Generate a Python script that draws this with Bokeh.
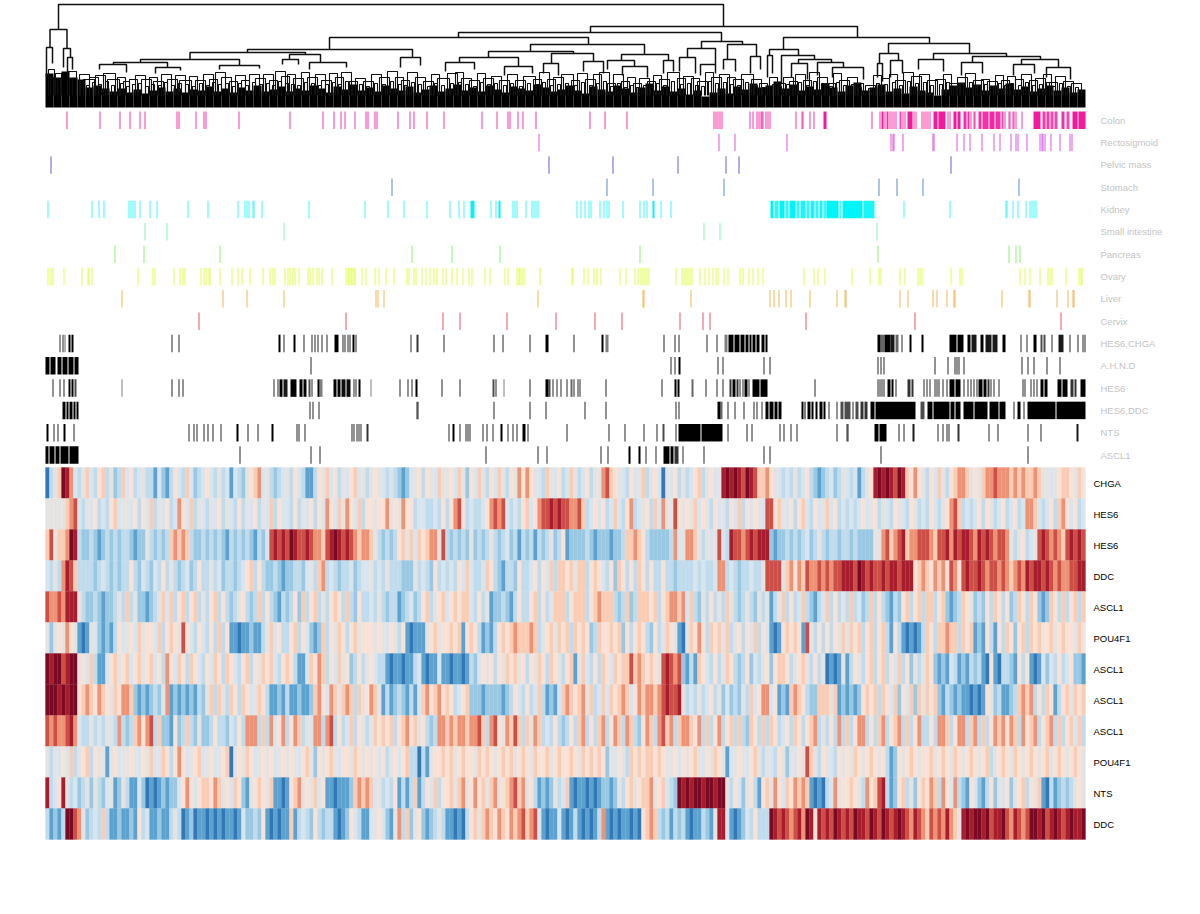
from bokeh.plotting import figure
from bokeh.models import Range1d, ColumnDataSource
from bokeh.core.properties import value
from bokeh.embed import file_html
from bokeh.resources import INLINE

# ---------- tracks: sample, or (first sample, count), or (first sample, count, coverage)
COLON = [21,54,74,84,94,99,131,133,150,158,160,193,244,277,288,295,299,309,320,322,329,331,352,364,368,381,398,436,451,462,464,472,477,490,544,559,581,
 668,670,672,674,676,704,707,711,713,715,716,717,720,722,724,750,756,757,764,768,(778,3,1),826,834,(836,2,1),839,(841,2,.9),844,846,848,850,(854,2,.8),857,859,(862,5,1),868,870,
 876,878,880,882,884,(888,4,1),(893,7,1),902,904,(908,3,1),(912,3,1),(918,3,.9),(922,2,.9),925,(928,2,.8),(933,3,.9),(937,6,.9),(944,5,.95),(950,5,.9),(956,2,.8),959,963,964,967,968,970,976,(988,7,1),(997,3,.85),(1001,3,.85),(1005,3,.8),(1009,3,.8),(1016,3,.9),(1021,3,.8),(1027,5,1),(1033,7,1)]
RECTOSIGMOID = [493,673,689,741,845,847,848,857,887,888,911,918,924,936,948,954,965,970,972,981,994,996,997,999,1005,1014,1024,1026]
PELVIC_MASS = [5,503,567,632,680,693,905]
STOMACH = [346,561,607,678,833,851,877,973]
KIDNEY = [2,46,53,58,83,85,87,89,94,104,111,142,162,192,199,201,203,207,208,216,263,319,342,358,381,404,413,418,(425,4,1),445,450,(453,2,1),467,469,471,480,486,488,490,492,531,535,539,543,545,554,558,561,563,577,594,598,601,(607,2,1),615,625,
 (725,3,1),(729,4,.8),(734,5,1),(740,3,.8),(744,6,1),(751,3,.8),(755,5,.9),(761,3,.8),(765,4,.9),(770,3,.8),(774,3,.9),(778,3,.75),(781,12,1),(794,2,.7),(797,20,1),(818,11,.9),858,904,960,961,967,972,980,984,986,988,990]
SMALL_INTESTINE = [99,121,238,658,674,831]
PANCREAS = [69,98,174,366,406,454,594,832,963,970,974]
OVARY = [2,5,7,18,36,42,43,46,92,107,109,128,134,137,139,155,158,160,163,164,174,186,192,196,204,217,224,227,229,239,242,244,247,249,253,262,264,267,271,273,276,286,300,302,303,305,306,308,309,316,320,329,333,340,348,361,363,368,370,376,380,384,388,391,397,400,406,411,417,423,426,439,444,459,462,471,473,474,476,478,(494,1,.9),526,527,538,542,548,551,555,574,580,589,592,595,597,599,601,603,630,636,638,640,642,644,646,654,659,663,667,670,672,678,682,694,697,703,707,712,717,758,768,772,779,806,824,833,835,854,859,872,874,876,905,914,916,974,979,984,994,1002,1004,1006,1020,1033,1035,1036]
LIVER = [76,177,201,238,330,332,338,492,597,598,645,724,728,733,740,745,764,791,799,800,854,862,887,891,901,908,909,956,983,984,1011,1022,1027,1028]
CERVIX = [153,300,397,414,461,510,549,576,634,657,664,760,869,1015]
HES6_CHGA = [14,17,(19,1,.6),(23,2,1),(26,2,1),126,133,(233,2,1),238,(248,2,1),258,266,269,272,276,281,(289,4,1),297,299,302,304,(307,2,1),310,365,(371,2,.8),398,448,457,484,(500,3,1),528,(556,2,1),(560,3,.5),618,629,633,661,671,(679,3,.5),(683,5,1),(689,5,1),(695,4,1),(700,3,1),(704,2,1),(707,3,1),(711,3,1),(716,3,1),(720,2,1),(832,3,1),(835,4,.6),(839,6,1),(845,4,.9),(850,3,.6),856,(864,2,1),(876,2,1),(904,7,1),(912,6,1),(922,3,1),(926,5,.9),(935,3,1),(940,6,.9),(947,5,.9),(957,3,1),975,981,(988,3,1),(995,2,.7),(998,2,.7),1006,(1013,5,.9),1024,1032,1037,1039]
AHND = [(0,4,1),(5,5,1),(12,4,1),(17,5,1),(23,5,1),(29,4,1),265,625,629,(633,2,1),672,677,718,724,832,835,838,889,902,909,911,913,918,976,982,988,1001,1014]
HES6 = [7,14,18,(23,2,1),(26,2,1),(29,2,.7),(76,1,.5),126,133,137,228,232,(234,3,1),(238,4,.9),(245,6,1),(254,3,1),(258,3,1),(263,2,.7),266,(272,2,1),(274,3,.5),(288,3,1),(292,3,1),(296,4,.95),(301,4,.95),308,310,(313,2,1),(325,1,.5),354,362,366,(370,2,1),396,414,(447,2,.7),450,(458,1,.5),484,(500,3,1),(503,2,.7),507,511,515,521,(525,2,.6),528,532,534,560,616,(629,2,1),(632,2,1),(646,2,.6),660,671,677,(684,2,.8),(687,3,1),(691,2,.8),694,697,(699,3,1),703,(707,7,1),(715,7,1),769,832,834,836,838,(842,3,1),(846,2,1),850,(862,3,.8),(866,2,.8),878,881,884,889,891,893,897,901,(904,5,1),(910,5,1),918,922,925,928,931,(933,4,1),(938,3,1),(942,2),945,948,953,977,979,985,988,991,(995,3,1),(999,3,1),(1012,4,1),(1017,5,1),(1025,3,.8),(1029,2,.8),(1035,5,1)]
HES6_DDC = [(17,3,1),(21,2,1),(24,3,1),(28,2,1),(31,2,1),264,267,273,372,371,448,484,500,539,560,630,633,(672,3,1),(675,2,.6),682,689,698,708,711,716,(720,3,1),(724,4,1),(729,3,1),(733,3,1),(756,2,1),(759,1,1),(762,3,1),(766,2,1),(770,2,1),(774,3,1),(778,2,1),783,791,(795,3,.7),(799,6,.7),807,(810,3,.7),(815,3,.8),(819,3,.8),(825,4,1),(830,40,1),(875,4,.7),(882,5,1),(888,16,1),(905,4,1),(910,5,1),(918,10,1),(929,13,1),(944,9,1),(954,6,1),968,(972,3,1),978,(982,28,1),(1011,29,1)]
NTS = [(1,2,1),8,12,(18,2,1),28,143,148,151,158,162,167,175,(191,2,1),202,212,(226,2,1),251,253,259,306,308,311,313,315,(321,2,.8),403,(407,2,1),414,420,422,424,437,441,447,(455,2,1),462,467,471,(477,3,1),482,521,563,579,598,611,(617,2,.7),630,(633,22,1),(656,21,1),682,701,706,734,738,745,751,791,801,802,(829,4,1),(834,7,1),853,858,(867,2,.9),892,897,901,903,(912,2,.8),943,952,982,995,(1031,2,.9)]
ASCL1 = [(0,3,1),(4,5,1),(10,4,1),(15,8,1),(24,9,1),194,265,274,440,492,501,555,562,(583,2,1),(593,2,1),600,610,(618,6,1),(625,3,1),(629,4,.8),637,658,718,724,835,982]

TRACK_NAMES = ["Colon","Rectosigmoid","Pelvic mass","Stomach","Kidney","Small intestine","Pancreas","Ovary","Liver","Cervix","HES6,CHGA","A.H.N.D","HES6","HES6,DDC","NTS","ASCL1"]
TRACK_DATA = [COLON,RECTOSIGMOID,PELVIC_MASS,STOMACH,KIDNEY,SMALL_INTESTINE,PANCREAS,OVARY,LIVER,CERVIX,HES6_CHGA,AHND,HES6,HES6_DDC,NTS,ASCL1]
TRACK_COLORS = ["#F5189A","#D83CE0","#6A50D8","#4A80D0","#00F4F8","#50F0A0","#70F050","#D8FF20","#F0A020","#E84050"]+["#000000"]*6
TRACK_SINGLE = [.85,.85,.95,.9,.75,.7,.8,.8,.75,.9]+[.85]*6

# ---------- heat map rows: each string covers 80 samples, codes blue (0) .. dark red (B)
GENE_NAMES = ["CHGA","HES6","HES6","DDC","ASCL1","POU4F1","ASCL1","ASCL1","ASCL1","POU4F1","NTS","DDC"]
ROW_CHGA = ["0357BA84357436735237","46345331421364374234","64353414325678453234","53643113657463546745","35654343212456365475","56475264753647536586","86543754634753463558","97654364573564054635","346735645ABABA9BA977","86543435346321234235","4341356ABABA9BA76865","36475367887565788988","87878778755456776576"]
ROW_HES6A = ["55555789435463436745","54636473546348647354","35463543635463547364","43635463648647586473","66566856586634433436","36896343346898943436","746899A9A99889734646","34743683456374855965","65746536453647364654","99675463674364574634","34346456354365436534","36435689734346365346","34634887434637864634"]
ROW_HES6B = ["795778BA322321232323","32122532323787873223","23232132323213249A9A","9BA99A98879ABA9A9878","87532323675747678859","32323252323532342313","23132352361222232122","21223778763222223845","88753545943A9989A9AA","A2122323234235323323","32322225589789A78899","98799A8A9AA98A9A9899","853563459A989879A9A9"]
ROW_DDCA = ["43538A97333323432323","36324324363532342363","35342332346736322321","22332453783432334234","45343533322253432634","34364743347632133263","34636473776757736764","36276363763633633233","33434334883432334335","9999578687988989899A","AA9BA9A99A9AA9AAA678","7687869869A99A989989","87898A9AA9A9898899AA"]
ROW_ASCL1A = ["98898AAA532232122353","73522123574736736735","36736323563237363213","23627367353676373263","34353233123423673567","46767743635122321363","36736357773677736787","77323723777673678878","47325363537532353253","51357363473213473635","37342373632132673673","77367212376523263763","62376376212763736737"]
ROW_POU4F1A = ["52565865101542121364","56475664736765964364","36373611011211357463","36736421273657636756","66565465361011156756","67671676312136767877","78735675767376762376","67672636763263576510","57686376757356364736","41016767619536363657","57673673673163101013","76377877376712163163","76267376766756766576"]
ROW_ASCL1B = ["BABB9ABB564731146756","74675674638647637643","64763764367365767436","76311476873647562363","56433101101134101141","10110132465636576756","36576376536715743637","647677978767659A9892","13176436357632362435","62677635675363501015","13653673673647362535","76212143121323106103","32163610142436346221"]
ROW_ASCL1C = ["BBBABABB678768765768","87212123248121212132","57375376376457631121","31121127864875787375","68751312321314786786","76346722212222123643","63473121478767857347","476787468788789A99A5","34353463524232537468","84612178763227775712","12126767376472647275","76721321211010165231","12378783637613675767"]
ROW_ASCL1D = ["989889A8433534354383","23786893722162373252","23633243638883738468","36873548838936347365","35767673678675632388","78788788973896587973","75873436323637836378","36873873268738978378","87683736836737327637","37634637636783536383","73688363783678373683","36388736883783736878","68738678367837367473"]
ROW_POU4F1B = ["53546473567365515645","56546574576368645674","56456705657645656456","56546752656754665765","65646356467330315667","67567665767656767567","65766756766765767676","25465376767767655646","56754657651456546753","54365254659753654365","65765676563126567656","67567657656765673567","65765676567567656765"]
ROW_NTS = ["A346A534235253245125","31142010121224686467","76875647621567657110","16785657461101112787","87453436131371364736","67578568675785678978","56312125347101101012","212536756778567432BA","BABBABBABB5364256316","75864768787101034856","676538679A3126735267","68738648321642136254","62567365710312323565"]
ROW_DDCB = ["31213BB9852343731121","12163411211353012011","01010110142232610101","17134326323310126431","14564215837256212353","11010367578768768789","78941011410131010138","10101101067873231323","10113215AA4101243633","3BA9A989A8BA6A9A9BA9","A9BAA9BA9BA9ABA98A98","79898A875ABABBAB9AAB","98A989BBAB9ABA9ABAAB"]
HEAT_ROWS = [ROW_CHGA,ROW_HES6A,ROW_HES6B,ROW_DDCA,ROW_ASCL1A,ROW_POU4F1A,ROW_ASCL1B,ROW_ASCL1C,ROW_ASCL1D,ROW_POU4F1B,ROW_NTS,ROW_DDCB]
HEAT_CODES = "0123456789AB"
HEAT_COLORS = ["#3277b6","#5da1cf","#9ac8e2","#c0dbeb","#d8e5ee","#e5e3e2","#f8e2d7","#f9cdb5","#ec9377","#cb4f47","#a81d2e","#7a0a24"]

# ---------- dendrogram: left, right, merge height, left leg end, right leg end
DEND_LINKS = [
 (13,678,103,78,81),(4.5,21.5,78,60,59),(1,7,60,30,44),(18,25,59,40,50),(22,27,50,30,38),
 (545,812,81,75,70),(413,676,75,70,66),(284,543,70,58,63),(202,367,58,55,50),(144.5,260,55,48,53),
 (244,275,53,48,45),(95,194,48,45,42),(68,122,45,43,40),(54,81,43,38,35),(110,135,40,34,37),
 (174,214,42,38,39),(237,253,48,43,43),(264,301,45,38,40),(355,375,50,40,42),(485,599,63,56,53),
 (443,528,56,50,54),(414,473,50,45,41),(506,548,54,44,46),(576,623,53,47,47),(400,429,45,36,38),
 (459,487,41,32,34),(498,513,44,34,32),(538,558,46,36,34),(562,589,47,38,41),(618,628,47,34,36),
 (577,602,41,32,30),(656,697,66,59,63),(642,670,59,50,43),(682,711,63,48,51),(634,650,50,36,34),
 (655,670,43,32,34),(678,690,48,38,36),(705,715,51,34,38),(738,884,70,58,64),(724,753,58,52,52),
 (722,727,52,30,34),(736,769,52,24,48),(753,786,48,44,45),(746,762,44,30,28),(772,798,45,32,40),
 (787,818,40,30,28),(843,924,64,54,54),(834,853,54,44,47),(832,837,44,30,26),(845,857,47,30,34),
 (888,961,54,48,51),(873,898,48,38,36),(927,995,51,45,48),(916,937,45,32,34),(976,1013,48,43,40),
 (968,989,43,32,34),(1001,1025,40,30,28)]
DEND_SMALL = [
 (3,9,38),(10,16,34),(22,31,36),(34,44,33),(38,49,28),(44,53,30),(50,60,32),(58,70,34),(62,74,28),(72,80,30),(78,84,26),(84,92,28),
 (90,100,32),(96,106,28),(104,112,30),(108,118,26),(116,126,33),(122,132,28),(130,140,32),(134,146,27),(144,152,31),(150,160,27),(158,168,33),
 (164,172,28),(170,180,35),(176,186,30),(184,192,26),(190,200,32),(196,204,27),(204,214,33),(210,220,29),(218,228,33),(224,232,27),(230,240,36),
 (236,244,31),(242,250,33),(248,258,29),(256,264,35),(262,272,30),(270,280,33),(276,286,27),(284,292,34),(290,298,30),(296,306,35),(304,312,26),
 (310,320,29),(318,328,26),(326,336,33),(334,344,30),(342,352,36),(350,358,30),(356,364,27),(362,372,35),(370,380,30),(378,388,26),(386,394,33),
 (392,404,29),(402,412,34),(410,418,35),(416,426,29),(424,434,27),(432,440,34),(438,448,29),(446,456,31),(454,464,27),(462,472,33),(470,480,27),(478,490,31),
 (488,496,28),(494,504,35),(502,510,28),(508,518,30),(516,528,33),(526,534,27),(532,542,34),(540,550,28),(548,556,33),(554,564,35),(562,570,24),(568,578,33),
 (576,584,26),(582,590,30),(588,596,24),(594,604,29),(602,610,26),(608,616,32),(614,624,28),(622,634,35),(632,640,29),(638,648,31),(646,654,29),(652,662,26),(660,668,35),
 (666,676,30),(674,684,33),(682,690,30),(688,698,28),(696,708,33),(706,716,28),(714,722,24),(724,732,30),(730,740,24),(738,748,30),(744,752,26),(750,760,33),(758,766,27),
 (764,774,35),(772,782,30),(780,790,24),(788,796,34),(794,804,27),(802,812,30),(810,818,24),(820,830,22),(828,836,32),(836,844,29),(844,852,33),(850,860,27),(858,868,35),
 (866,876,31),(874,884,33),(882,892,27),(890,900,28),(898,906,33),(904,914,24),(912,922,30),(920,930,34),(928,938,27),(936,944,28),(942,952,26),(950,958,32),(956,964,27),(962,970,31),
 (970,978,28),(976,986,33),(984,992,27),(990,1000,29),(998,1006,33),(1004,1012,25),(1010,1020,31),(1018,1028,26),(1026,1036,24),
 (5,8,30),(12,15,28),(24,27,29),(35,38,24),(41,44,22),(47,50,25),(53,56,23),(60,63,26),(66,69,22),(75,78,24),(81,84,21),(87,90,23),(93,96,24),(100,103,21),(106,109,23),(113,116,22),(119,122,25),(126,129,22),(133,136,24),(140,143,23),(147,150,21),(154,157,24),(161,164,22),(167,170,25),(173,176,23),(180,183,24),(187,190,21),(193,196,24),(200,203,22),(207,210,25),(214,217,23),(221,224,24),(227,230,22),(233,236,26),(240,243,24),(246,249,23),(252,255,22),(259,262,25),(266,269,24),(273,276,22),(280,283,23),(287,290,25),(293,296,23),(300,303,26),(307,310,22),(314,317,23),(321,324,21),(329,332,24),(337,340,23),(345,348,26),(353,356,23),(359,362,22),(366,369,25),(373,376,23),(382,385,21),(389,392,24),(396,399,22),(405,408,24),(413,416,25),(420,423,23),(428,431,21),(435,438,25),(442,445,23),(449,452,24),(458,461,22),(465,468,24),(474,477,21),(482,485,24),(491,494,23),(497,500,25),(505,508,22),(512,515,23),(520,523,24),(529,532,22),(536,539,25),(544,547,22),(551,554,24),(558,561,26),(565,568,21),(572,575,24),(579,582,20),(585,588,22),(591,594,20),(598,601,22),(605,608,20),(611,614,24),(618,621,22),(626,629,26),(635,638,23),(642,645,24),(650,653,22),(656,659,21),(663,666,26),(670,673,24),(678,681,25),(685,688,23),(692,695,22),(700,703,25),(709,712,22),(717,720,20),(727,730,23),(733,736,21),(741,744,23),(747,750,22),(753,756,25),(761,764,22),(768,771,26),(776,779,24),(784,787,21),(791,794,25),(798,801,22),(806,809,23),(813,816,20),(823,826,19),(831,834,24),(839,842,23),(847,850,25),(854,857,22),(862,865,26),(870,873,24),(878,881,25),(885,888,22),(894,897,23),(901,904,25),(908,911,21),(915,918,24),(924,927,25),(932,935,22),(939,942,23),(945,948,21),(953,956,24),(959,962,22),(965,968,24),(973,976,22),(980,983,25),(987,990,22),(994,997,23),(1001,1004,25),(1007,1010,21),(1014,1017,24),(1022,1025,21),(1030,1033,20)]
DEND_MASS = [34,30,36,30,28,20,22,19,16,19,15,18,14,17,20,16,19,15,18,17,21,16,19,15,20,17,22,16,18,21,16,19,
 17,22,19,15,21,18,23,17,20,16,22,19,17,21,15,18,22,16,19,23,17,20,16,22,18,15,21,19,17,23,20,16,
 18,22,17,14,21,18,16,22,19,15,20,24,17,21,16,19,13,17,11,15,19,14,21,18,24,20,22,26,19,23,17,21,
 18,24,20,16,22,25,17,20,23,16,19,14,21,17,15,12,18,22,25,20,23,17,22,19,24,18,21,16,19,22,17,20,15,18]

LEFT_MARGIN, LABEL_X_TRACK, LABEL_X_HEAT = 45, 1055, 1048
DEND_BASE, DEND_LEG_END = 107, 12
TRACK_TOP, TRACK_STEP, TRACK_H = 111, 22.32, 17.5
HEAT_TOP, HEAT_H, SPAN = 467, 31, 80

p = figure(width=1184, height=850, output_backend="svg", toolbar_location=None,
           x_range=Range1d(-LEFT_MARGIN, 1184-LEFT_MARGIN), y_range=Range1d(850, 0),
           min_border=0, outline_line_color=None, margin=(0, 0, 0, 0))
p.xaxis.visible = False
p.yaxis.visible = False
p.grid.visible = False
p.background_fill_color = "white"

# dendrogram
ml, mr, mt = [], [], []
for i, h in enumerate(DEND_MASS):
    ml.append(round(i*1040/len(DEND_MASS))); mr.append(round((i+1)*1040/len(DEND_MASS))); mt.append(DEND_BASE-h)
p.quad(left=ml, right=mr, top=mt, bottom=DEND_BASE, fill_color="#000000", line_color=None)
xs, ys = [], []
for l, r, t in DEND_SMALL:
    xs.append([l, l, r, r]); ys.append([DEND_BASE-DEND_LEG_END, DEND_BASE-t, DEND_BASE-t, DEND_BASE-DEND_LEG_END])
p.multi_line(xs, ys, line_color="#111111", line_width=1.1)
xs, ys = [], []
for l, r, t, hl, hr in DEND_LINKS:
    xs.append([l, l, r, r]); ys.append([DEND_BASE-hl, DEND_BASE-t, DEND_BASE-t, DEND_BASE-hr])
p.multi_line(xs, ys, line_color="#111111", line_width=1.5)

# annotation tracks
for i, (name, items, col, single) in enumerate(zip(TRACK_NAMES, TRACK_DATA, TRACK_COLORS, TRACK_SINGLE)):
    l, r, a = [], [], []
    for it in items:
        if isinstance(it, tuple):
            s, n = it[0], it[1]; cov = it[2] if len(it) > 2 else 0.8
        else:
            s, n, cov = it, 1, single
        l.append(s); r.append(s+n); a.append(cov)
    top = TRACK_TOP + i*TRACK_STEP
    src = ColumnDataSource(dict(left=l, right=r, alpha=a))
    p.quad(left="left", right="right", top=top, bottom=top+TRACK_H, source=src,
           fill_color=col, fill_alpha="alpha", line_color=None)
    p.text(x=[LABEL_X_TRACK], y=[top+TRACK_H/2], text=[name], text_color="#c4c4c4", text_font_size="9.5px",
           text_font=value("Liberation Sans"), text_baseline="middle")

# heat map
l, r, t, b, c = [], [], [], [], []
for ri, row in enumerate(HEAT_ROWS):
    for k, chunk in enumerate(row):
        n = len(chunk)
        for j, ch in enumerate(chunk):
            l.append(round(k*SPAN + j*SPAN/n)); r.append(round(k*SPAN + (j+1)*SPAN/n))
            t.append(HEAT_TOP+ri*HEAT_H); b.append(HEAT_TOP+(ri+1)*HEAT_H)
            c.append(HEAT_COLORS[HEAT_CODES.index(ch)])
p.quad(left=l, right=r, top=t, bottom=b, fill_color=c, line_color=c, line_width=0.3)
p.text(x=[LABEL_X_HEAT]*len(GENE_NAMES), y=[HEAT_TOP+(i+.5)*HEAT_H for i in range(len(GENE_NAMES))], text=GENE_NAMES,
       text_color="#000000", text_font_size="9.5px", text_font=value("Liberation Sans"), text_baseline="middle")

open("out.html", "w").write(file_html(p, INLINE))
